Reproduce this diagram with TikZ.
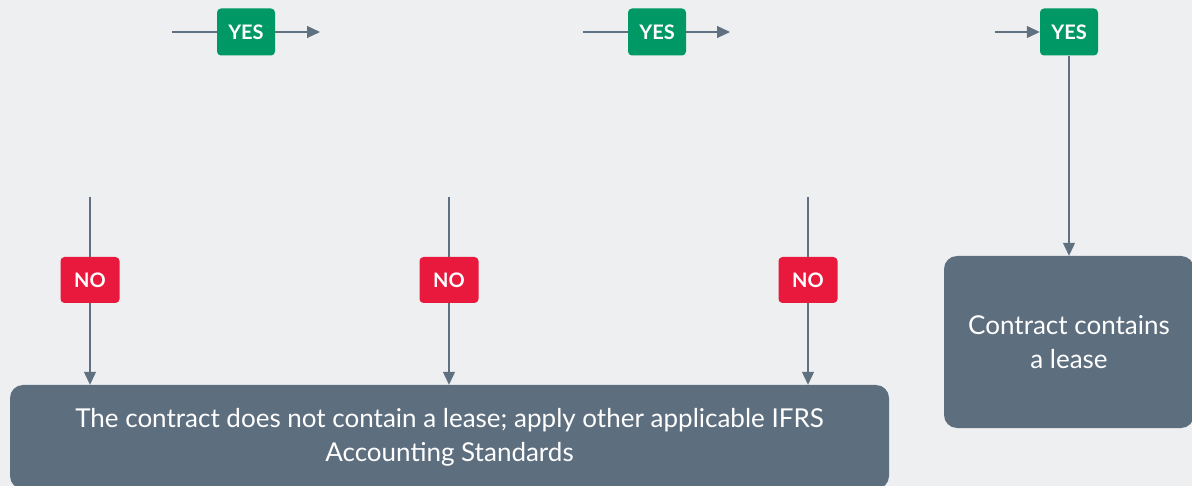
\documentclass[tikz,border=0pt]{standalone}
\usepackage{fontspec}
\setmainfont{Lato}
\usepackage{tikz}
\usetikzlibrary{positioning,arrows.meta}

\definecolor{bgcol}{RGB}{238,239,241}
\definecolor{yescol}{RGB}{0,153,102}
\definecolor{nocol}{RGB}{232,25,60}
\definecolor{slatecol}{RGB}{93,110,127}
\definecolor{linecol}{RGB}{95,112,128}

\tikzset{
  yesbox/.style={rectangle, rounded corners=4pt, fill=yescol, text=white, font=\bfseries\fontsize{20}{24}\selectfont, minimum width=58pt, minimum height=47pt, inner sep=0pt},
  nobox/.style={rectangle, rounded corners=4pt, fill=nocol, text=white, font=\bfseries\fontsize{20}{24}\selectfont, minimum width=59pt, minimum height=46pt, inner sep=0pt},
  resultbox/.style={rectangle, rounded corners=13pt, fill=slatecol, text=white, font=\fontsize{26}{34}\selectfont, align=center, inner sep=0pt},
  flow/.style={draw=linecol, line width=1.2pt},
  flowarrow/.style={flow, -{Triangle[length=13pt,width=12pt]}}
}

\begin{document}
\begin{tikzpicture}[x=1pt,y=-1pt]
  \useasboundingbox[fill=bgcol] (0,0) rectangle (1192,486);

  % result boxes
  \node (nolease) [resultbox, minimum width=879pt, minimum height=104pt] at (449.5,437) {The contract does not contain a lease; apply other applicable IFRS\\Accounting Standards};
  \node (lease) [resultbox, minimum width=250pt, minimum height=172pt] at (1069,342) {Contract contains\\a lease};

  % yes boxes along the top
  \node (yesA) [yesbox] at (246,32) {YES};
  \node (yesB) [yesbox] at (657,32) {YES};
  \node (yesC) [yesbox] at (1069,32) {YES};

  % no boxes
  \node (noA) [nobox] at (90,280) {NO};
  \node (noB) [nobox] at (449,280) {NO};
  \node (noC) [nobox] at (808,280) {NO};

  % loose ends
  \coordinate (inA) at (172,32);
  \coordinate (outA) at (320,32);
  \coordinate (inB) at (583,32);
  \coordinate (outB) at (730,32);
  \coordinate (inC) at (995,32);
  \coordinate (topA) at (90,197);
  \coordinate (topB) at (449,197);
  \coordinate (topC) at (808,197);

  \path (inA) edge [flow] (yesA.west);
  \path (yesA.east) edge [flowarrow] (outA);
  \path (inB) edge [flow] (yesB.west);
  \path (yesB.east) edge [flowarrow] (outB);
  \path (inC) edge [flowarrow] (yesC.west);
  \path (yesC.south) edge [flowarrow] (lease.north);

  \path (topA) edge [flow] (noA.north);
  \path (topB) edge [flow] (noB.north);
  \path (topC) edge [flow] (noC.north);
  \path (noA.south) edge [flowarrow] (noA.south |- nolease.north);
  \path (noB.south) edge [flowarrow] (noB.south |- nolease.north);
  \path (noC.south) edge [flowarrow] (noC.south |- nolease.north);
\end{tikzpicture}
\end{document}
